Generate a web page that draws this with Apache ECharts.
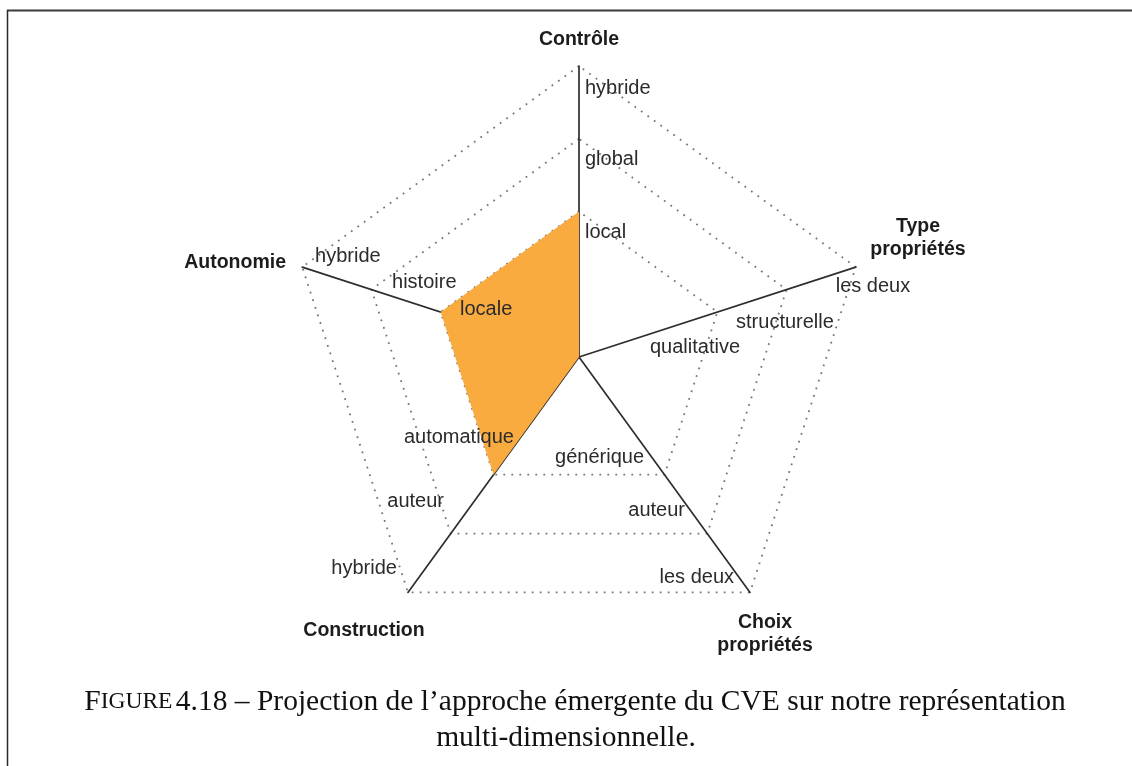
<!DOCTYPE html>
<html>
<head>
<meta charset="utf-8">
<script src="https://cdn.jsdelivr.net/npm/echarts@6/dist/echarts.min.js"></script>
<style>
  html, body { margin: 0; padding: 0; background: #ffffff; }
  #chart { width: 1132px; height: 766px; }
</style>
</head>
<body>
<div id="chart"></div>
<script>
// Dimensions of the representation, counter-clockwise from the top
const dimensions = ['Contrôle', 'Autonomie', 'Construction', 'Choix\npropriétés', 'Type\npropriétés'];
// Ordinal levels shown on every axis
const levelValues = [0.5, 0.75, 1];
const levelLabels = [
  ['local', 'global', 'hybride'],
  ['locale', 'histoire', 'hybride'],
  ['automatique', 'auteur', 'hybride'],
  ['générique', 'auteur', 'les deux'],
  ['qualitative', 'structurelle', 'les deux']
];
// Position of the emergent CVE approach on each dimension
const approachValues = [0.5, 0.5, 0.5, 0, 0];
const captionLines = [
  '4.18 – Projection de l’approche émergente du CVE sur notre représentation',
  'multi-dimensionnelle.'
];

// Text placement around each level point: [dx, dy, align]
const levelLayout = [
  [[6, 20.5, 'left'], [6, 21, 'left'], [6, 22, 'left']],
  [[19.4, -3, 'left'], [20.6, -6.6, 'left'], [12.8, -11, 'left']],
  [[20.5, -37.7, 'right'], [-6.7, -31.6, 'right'], [-11, -24.4, 'right']],
  [[-20.5, -17.7, 'right'], [-22.3, -22.6, 'right'], [-16, -15.4, 'right']],
  [[-22.4, 35, 'center'], [-1.6, 33.4, 'center'], [17.2, 19.9, 'center']]
];
// Dimension names placement around the outer vertex: [dx, dy, align]
const nameLayout = [
  [0, -26, 'center'],
  [-16.2, -4, 'right'],
  [-44, 38.6, 'center'],
  [15, 41.6, 'center'],
  [62.2, -29, 'center']
];

const CENTER = [579, 357];
const RADIUS = 291;
const SANS = '"Liberation Sans", Arial, Helvetica, sans-serif';
const SERIF = '"Liberation Serif", "Times New Roman", serif';

const chart = echarts.init(document.getElementById('chart'), null, { renderer: 'canvas' });

chart.setOption({
  backgroundColor: '#ffffff',
  animation: false,
  radar: {
    center: CENTER,
    radius: RADIUS,
    startAngle: 90,
    shape: 'polygon',
    splitNumber: 4,
    indicator: dimensions.map(function (d) { return { name: d, min: 0, max: 1 }; }),
    axisName: { show: false },
    axisLine: { lineStyle: { color: '#2e2e2e', width: 1.7 } },
    axisTick: { show: false },
    axisLabel: { show: false },
    splitLine: {
      lineStyle: {
        color: ['rgba(0,0,0,0)', 'rgba(0,0,0,0)', '#777777', '#777777', '#777777'],
        width: 1.8,
        type: [1.8, 6.2]
      }
    },
    splitArea: { show: false }
  },
  series: [{
    type: 'radar',
    symbol: 'none',
    z: 1,
    lineStyle: { width: 0, opacity: 0 },
    areaStyle: { color: '#faab3f', opacity: 1 },
    data: [{ value: approachValues, name: 'CVE' }]
  }]
});

// Pixel position of a value on a given axis, through the radar coordinate system
function axisPoint(value, dimIndex) {
  try {
    const radar = chart.getModel().getComponent('radar', 0).coordinateSystem;
    return radar.dataToPoint(value, dimIndex);
  } catch (e) {
    const ang = (90 + dimIndex * 72) * Math.PI / 180;
    return [CENTER[0] + RADIUS * value * Math.cos(ang), CENTER[1] - RADIUS * value * Math.sin(ang)];
  }
}

const graphics = [];

// Frame rules
graphics.push({ type: 'line', shape: { x1: 7, y1: 10.5, x2: 1132, y2: 10.5 }, style: { stroke: '#3a3a3a', lineWidth: 2 } });
graphics.push({ type: 'line', shape: { x1: 7.5, y1: 10, x2: 7.5, y2: 766 }, style: { stroke: '#2a2a2a', lineWidth: 1.5 } });

// Level labels
levelLabels.forEach(function (labels, d) {
  labels.forEach(function (txt, l) {
    const p = axisPoint(levelValues[l], d);
    const lay = levelLayout[d][l];
    graphics.push({
      type: 'text', z: 10,
      x: p[0] + lay[0], y: p[1] + lay[1],
      style: {
        text: txt, fill: '#2b2b2b', fontSize: 20, fontFamily: SANS,
        align: lay[2], verticalAlign: 'middle',
        textAlign: lay[2], textVerticalAlign: 'middle'
      }
    });
  });
});

// Dimension names
dimensions.forEach(function (name, d) {
  const p = axisPoint(1, d);
  const lay = nameLayout[d];
  graphics.push({
    type: 'text', z: 10,
    x: p[0] + lay[0], y: p[1] + lay[1],
    style: {
      text: name, fill: '#1c1c1c', fontSize: 19.5, fontWeight: 'bold', fontFamily: SANS,
      lineHeight: 23,
      align: lay[2], verticalAlign: 'middle',
      textAlign: lay[2], textVerticalAlign: 'middle'
    }
  });
});

// Caption
graphics.push({
  type: 'text', z: 10, x: 575, y: 702,
  style: {
    text: '{big|F}{sc|IGURE} {big|' + captionLines[0] + '}',
    align: 'center', verticalAlign: 'middle',
    textAlign: 'center', textVerticalAlign: 'middle',
    rich: {
      big: { fontSize: 29.5, fontFamily: SERIF, fill: '#111111' },
      sc: { fontSize: 23.5, fontFamily: SERIF, fill: '#111111' }
    }
  }
});
graphics.push({
  type: 'text', z: 10, x: 566, y: 738,
  style: {
    text: captionLines[1], fontSize: 29.5, fontFamily: SERIF, fill: '#111111',
    align: 'center', verticalAlign: 'middle',
    textAlign: 'center', textVerticalAlign: 'middle'
  }
});

chart.setOption({ graphic: graphics });
</script>
</body>
</html>
